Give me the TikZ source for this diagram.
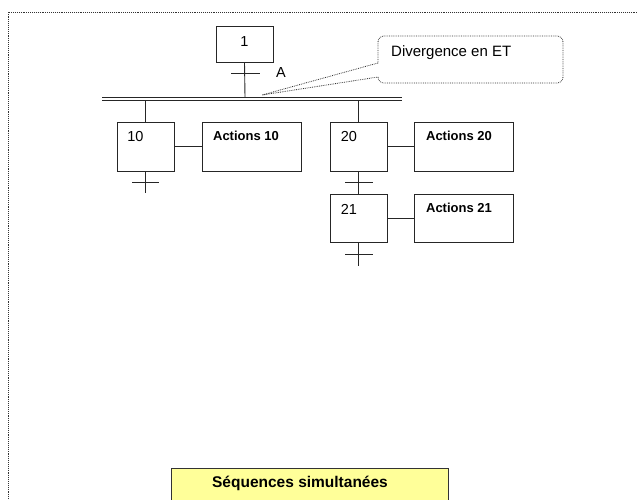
\documentclass[tikz,border=0pt]{standalone}
\usepackage{fontspec}
\setmainfont{Liberation Sans}
\definecolor{titleyellow}{RGB}{255,255,153}
\begin{document}
\begin{tikzpicture}[x=1pt,y=-1pt,
  ln/.style={draw=black!85,line width=0.9pt},
  stepbox/.style={ln,minimum width=57pt,minimum height=49pt,inner sep=0pt},
  actbox/.style={ln,minimum width=99pt,minimum height=49pt,inner sep=0pt},
  num/.style={font=\fontsize{14.5}{16}\selectfont,inner sep=0pt},
  act/.style={font=\bfseries\fontsize{13}{15}\selectfont,inner sep=0pt},
  trans/.style={ln},
  frame/.style={draw=black!80,line width=0.9pt,densely dotted},
  callout/.style={draw=black!80,line width=0.8pt,densely dotted}]
\useasboundingbox (0,0) rectangle (638,499);
% outer frame
\draw[frame] (8,499) -- (8,12) -- (637,12);
% title box
\node[draw=black!80,line width=0.8pt,fill=titleyellow,minimum width=277pt,minimum height=40pt,anchor=north west,inner sep=0pt] (title) at (171,468) {};
\node[font=\bfseries\fontsize{15.5}{18}\selectfont,inner sep=0pt] (titletext) at (300,483) {Séquences simultanées};
% step 1
\node[ln,minimum width=57pt,minimum height=36pt,inner sep=0pt] (s1) at (244.5,44) {};
\node[num] (t1) at (244.5,42) {1};
% double bar
\coordinate (barL) at (102,97);
\coordinate (barR) at (402,97);
\coordinate (barL2) at (102,100);
\coordinate (barR2) at (402,100);
\draw[ln] (barL) -- (barR);
\draw[ln] (barL2) -- (barR2);
\coordinate (j1) at (245,97);
\draw[ln] (s1.south) -- (j1);
\coordinate (tA1) at (231,73);
\coordinate (tA2) at (260,73);
\draw[trans] (tA1) -- (tA2);
\node[num] (lA) at (281,73) {A};
% branch 10
\node[stepbox] (s10) at (145.5,146.5) {};
\node[num] (t10) at (135.5,137) {10};
\node[actbox] (a10) at (251.5,146.5) {};
\node[act] (ta10) at (246,136) {Actions 10};
\coordinate (b10) at (145.5,100);
\draw[ln] (b10) -- (s10.north);
\draw[ln] (s10.east) -- (a10.west);
\coordinate (e10) at (145.5,193);
\draw[ln] (s10.south) -- (e10);
\coordinate (tr10a) at (132,182);
\coordinate (tr10b) at (159,182);
\draw[trans] (tr10a) -- (tr10b);
% branch 20
\node[stepbox] (s20) at (358.5,146.5) {};
\node[num] (t20) at (349,137) {20};
\node[actbox] (a20) at (463.5,146.5) {};
\node[act] (ta20) at (459,136) {Actions 20};
\coordinate (b20) at (358.5,100);
\draw[ln] (b20) -- (s20.north);
\draw[ln] (s20.east) -- (a20.west);
\node[stepbox,minimum height=48pt] (s21) at (358.5,218) {};
\node[num] (t21) at (349,209) {21};
\node[actbox,minimum height=48pt] (a21) at (463.5,218) {};
\node[act] (ta21) at (459,208) {Actions 21};
\draw[ln] (s20.south) -- (s21.north);
\draw[ln] (s21.east) -- (a21.west);
\coordinate (tr20a) at (345,182);
\coordinate (tr20b) at (373,182);
\draw[trans] (tr20a) -- (tr20b);
\coordinate (e21) at (358.5,266);
\draw[ln] (s21.south) -- (e21);
\coordinate (tr21a) at (345,254);
\coordinate (tr21b) at (373,254);
\draw[trans] (tr21a) -- (tr21b);
% callout
\node[font=\fontsize{15}{17}\selectfont,inner sep=0pt,anchor=west] (ctext) at (391,53) {Divergence en ET};
\coordinate (tip) at (262,95);
\draw[callout] (378,63) -- (tip) -- (378,77);
\draw[callout,rounded corners=6pt] (378,77) -- (378,83) -- (563,83) -- (563,36) -- (378,36) -- (378,63);
\end{tikzpicture}
\end{document}
